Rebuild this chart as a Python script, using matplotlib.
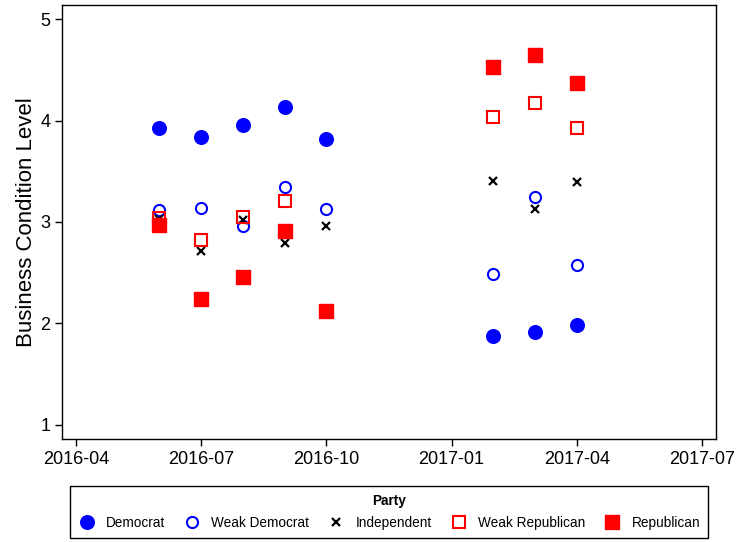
import numpy as np
import pandas as pd
import matplotlib
matplotlib.use('Agg')
import matplotlib.pyplot as plt
from matplotlib.ticker import FixedLocator, FuncFormatter

plt.rcParams['font.family'] = ['Liberation Sans', 'DejaVu Sans']

# survey months
months = pd.to_datetime(['2016-06-01', '2016-07-01', '2016-08-01', '2016-09-01', '2016-10-01',
                         '2017-02-01', '2017-03-01', '2017-04-01'])

democrat = [3.93, 3.84, 3.96, 4.13, 3.82, 1.87, 1.91, 1.98]
weak_democrat = [3.12, 3.14, 2.96, 3.34, 3.13, 2.49, 3.25, 2.57]
independent = [3.03, 2.71, 3.02, 2.79, 2.96, 3.40, 3.13, 3.39]
weak_republican = [3.04, 2.82, 3.05, 3.21, np.nan, 4.03, 4.17, 3.93]
republican = [2.97, 2.24, 2.46, 2.91, 2.12, 4.53, 4.65, 4.37]

tick_months = pd.to_datetime(['2016-04-01', '2016-07-01', '2016-10-01',
                              '2017-01-01', '2017-04-01', '2017-07-01'])


# monthly axis (months since 1960, equally spaced like stata %tm)
def to_m(d):
    return (d.year - 1960) * 12 + d.month - 1


def m_label(v, pos):
    v = int(round(v))
    return '%d-%02d' % (1960 + v // 12, v % 12 + 1)


x = to_m(months)
xt = to_m(tick_months)

fig = plt.figure(figsize=(7.36, 5.42), dpi=100)
ax = fig.add_axes([0.0842, 0.1906, 0.8886, 0.8002])

ax.plot(x, democrat, 'o', color='#0000ff', ms=9.8, label='Democrat', ls='none')
ax.plot(x, weak_democrat, 'o', mfc='none', mec='#0000ff', mew=1.5, ms=8, label='Weak Democrat', ls='none')
ax.plot(x, independent, 'x', color='black', mew=1.6, ms=6, label='Independent', ls='none')
ax.plot(x, weak_republican, 's', mfc='none', mec='#ff0000', mew=1.5, ms=8, label='Weak Republican', ls='none')
ax.plot(x, republican, 's', color='#ff0000', ms=9.6, label='Republican', ls='none')

ax.set_ylim(0.86, 5.14)
ax.set_yticks([1, 2, 3, 4, 5])
ax.set_xlim(xt[0] - 0.336, xt[-1] + 0.336)
ax.xaxis.set_major_locator(FixedLocator(list(xt)))
ax.xaxis.set_major_formatter(FuncFormatter(m_label))
ax.tick_params(labelsize=13, length=5, width=1, direction='out')
ax.set_ylabel('Business Condition Level', fontsize=16, labelpad=2)
for s in ax.spines.values():
    s.set_linewidth(1)

leg = fig.legend(loc='lower center', bbox_to_anchor=(0.529, -0.0055), ncol=5, fontsize=9.8,
                 title='Party', title_fontproperties={'weight': 'bold', 'size': 9.8},
                 fancybox=False, edgecolor='black', framealpha=1, columnspacing=1.4,
                 handletextpad=0.8, handlelength=1.2, borderpad=0.6)
leg.get_frame().set_linewidth(1)
leg._legend_box.sep = 6

fig.savefig('out.png', dpi=100)
